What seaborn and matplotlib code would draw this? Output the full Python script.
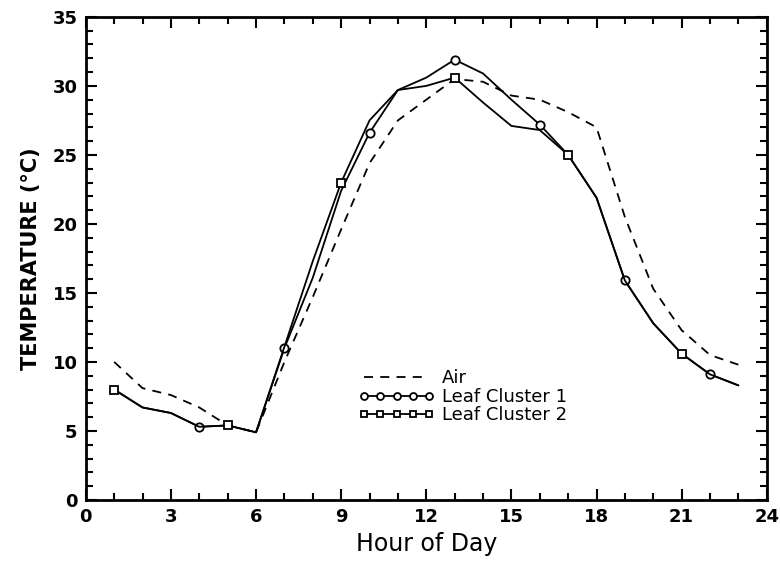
import matplotlib
matplotlib.use("Agg")
import matplotlib.pyplot as plt
import seaborn as sns
import pandas as pd
from matplotlib.ticker import MultipleLocator

# Data
hours = list(range(1, 24))
air = [10.0, 8.1, 7.6, 6.7, 5.4, 4.9, 10.0, 14.7, 19.6, 24.4, 27.5, 29.0,
       30.5, 30.3, 29.3, 29.0, 28.1, 27.0, 20.5, 15.3, 12.3, 10.5, 9.8]
leaf1 = [8.0, 6.7, 6.3, 5.3, 5.4, 4.9, 11.0, 16.1, 22.4, 26.6, 29.7, 30.6,
         31.9, 30.9, 29.0, 27.2, 25.0, 21.9, 15.9, 12.8, 10.6, 9.1, 8.3]
leaf2 = [8.0, 6.7, 6.3, 5.3, 5.4, 4.9, 11.1, 17.3, 23.0, 27.5, 29.7, 30.0,
         30.6, 28.8, 27.1, 26.8, 25.0, 21.9, 15.9, 12.8, 10.6, 9.1, 8.3]
x_ticks = [0, 3, 6, 9, 12, 15, 18, 21, 24]
y_ticks = [0, 5, 10, 15, 20, 25, 30, 35]

df = pd.DataFrame({"hour": hours, "Air": air,
                   "Leaf Cluster 1": leaf1, "Leaf Cluster 2": leaf2})

sns.set_style("ticks")
plt.rcParams["font.family"] = ["DejaVu Sans"]
for key in ["text.color", "axes.labelcolor", "xtick.color", "ytick.color",
            "axes.edgecolor"]:
    plt.rcParams[key] = "black"

fig = plt.figure(figsize=(7.8, 5.63), dpi=100)
ax = fig.add_axes([0.110, 0.112, 0.873, 0.858])

sns.lineplot(data=df, x="hour", y="Air", ax=ax, color="black",
             linestyle=(0, (5, 4)), linewidth=1.3, label="Air")
sns.lineplot(data=df, x="hour", y="Leaf Cluster 1", ax=ax, color="black",
             linewidth=1.3, marker="o", markersize=6, markerfacecolor="white",
             markeredgecolor="black", markeredgewidth=1.3,
             markevery=slice(3, None, 3), label="Leaf Cluster 1")
sns.lineplot(data=df, x="hour", y="Leaf Cluster 2", ax=ax, color="black",
             linewidth=1.3, marker="s", markersize=6, markerfacecolor="white",
             markeredgecolor="black", markeredgewidth=1.3,
             markevery=4, label="Leaf Cluster 2")

ax.set_xlim(0, 24)
ax.set_ylim(0, 35)
ax.set_xticks(x_ticks)
ax.set_yticks(y_ticks)
ax.xaxis.set_minor_locator(MultipleLocator(1))
ax.yaxis.set_minor_locator(MultipleLocator(1))
ax.tick_params(which="both", direction="in", top=True, right=True, width=1.5)
ax.tick_params(which="major", length=8, labelsize=13, pad=6)
ax.tick_params(which="minor", length=5)
for lab in ax.get_xticklabels() + ax.get_yticklabels():
    lab.set_fontweight("bold")
for sp in ax.spines.values():
    sp.set_linewidth(2)
    sp.set_visible(True)

ax.set_xlabel("Hour of Day", fontsize=17, labelpad=4)
ax.set_ylabel("TEMPERATURE (°C)", fontsize=15, fontweight="bold", labelpad=8)

leg = ax.legend(loc="upper left", bbox_to_anchor=(0.39, 0.285), frameon=False,
                handlelength=4.2, numpoints=5, fontsize=13,
                borderaxespad=0, labelspacing=0.02, handletextpad=0.4)
for h in leg.legend_handles:
    h.set_markevery(None)
    if h.get_marker() not in (None, "None", ""):
        h.set_markersize(5)

fig.savefig("out.png", dpi=100)
